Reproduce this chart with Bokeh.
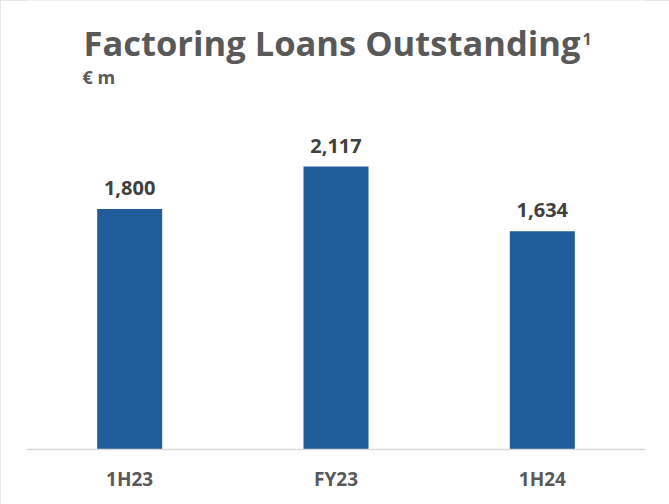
from bokeh.plotting import figure
from bokeh.models import ColumnDataSource, FactorRange, Range1d, LabelSet, Label
from bokeh.core.properties import value
from bokeh.embed import file_html
from bokeh.resources import INLINE

categories = ["1H23", "FY23", "1H24"]
values = [1800, 2117, 1634]
value_labels = ["1,800", "2,117", "1,634"]

title_text = "Factoring Loans Outstanding"
title_sup = "1"
subtitle_text = "€ m"

FONT = "Open Sans"
BAR = "#1F5C99"

src = ColumnDataSource(dict(cat=categories, val=values, lab=value_labels))

p = figure(
    width=669, height=504,
    x_range=FactorRange(*categories),
    y_range=Range1d(0, 3360),
    output_backend="svg", toolbar_location=None,
    min_border_left=26, min_border_right=24,
    min_border_top=0, min_border_bottom=55,
)
p.styles = {"outline": "2px solid #DEDEDE", "outline-offset": "-2px"}
p.outline_line_color = None
p.xgrid.visible = False
p.ygrid.visible = False
p.yaxis.visible = False

p.vbar(x="cat", top="val", width=0.315, source=src, fill_color=BAR, line_color=None)

p.add_layout(LabelSet(x="cat", y="val", text="lab", source=src, y_offset=14,
                      text_align="center", text_baseline="alphabetic",
                      text_font=value(FONT), text_font_style="bold", text_font_size="20px",
                      text_color="#404040"))

ax = p.xaxis[0]
ax.axis_label = None
ax.axis_line_color = "#D9D9D9"
ax.axis_line_width = 1.5
ax.major_tick_line_color = None
ax.minor_tick_line_color = None
ax.major_tick_out = 0
ax.major_tick_in = 0
ax.major_label_standoff = 16
ax.major_label_text_font = FONT
ax.major_label_text_font_style = "bold"
ax.major_label_text_font_size = "19px"
ax.major_label_text_color = "#595959"

p.add_layout(Label(x=57, y=407, x_units="screen", y_units="screen", text=title_text,
                   text_font=FONT, text_font_style="bold", text_font_size="34.5px",
                   text_color="#595959", text_baseline="alphabetic"))
p.add_layout(Label(x=556, y=411, x_units="screen", y_units="screen", text=title_sup,
                   text_font=FONT, text_font_style="bold", text_font_size="16px",
                   text_color="#595959", text_baseline="alphabetic"))
p.add_layout(Label(x=56, y=373, x_units="screen", y_units="screen", text=subtitle_text,
                   text_font=FONT, text_font_style="bold", text_font_size="18px",
                   text_color="#595959", text_baseline="alphabetic"))

open("out.html", "w").write(file_html(p, INLINE))
